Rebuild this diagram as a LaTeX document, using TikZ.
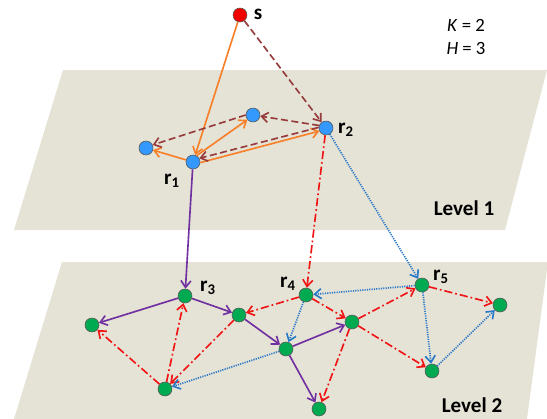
\documentclass[tikz,border=0pt]{standalone}
\usepackage{fontspec}
\setmainfont{Carlito}
\usetikzlibrary{arrows.meta}
\definecolor{planegray}{RGB}{229,226,214}
\definecolor{nodeblue}{RGB}{51,153,255}
\definecolor{nodegreen}{RGB}{0,170,80}
\definecolor{treeorange}{RGB}{247,128,40}
\definecolor{treebrown}{RGB}{150,60,60}
\definecolor{treepurple}{RGB}{112,48,160}
\definecolor{treered}{RGB}{240,20,20}
\definecolor{treeblue}{RGB}{40,120,200}

\begin{document}
\begin{tikzpicture}[
  x=0.03cm, y=-0.03cm,
  plane/.style={fill=planegray, draw=none},
  vtx/.style={circle, draw=black!65, line width=0.5pt, minimum size=0.42cm, inner sep=0pt},
  srcnode/.style={vtx, fill=red!95!black},
  bluenode/.style={vtx, fill=nodeblue},
  greennode/.style={vtx, fill=nodegreen},
  lbl/.style={font=\fontsize{18}{20}\selectfont\bfseries, inner sep=0pt},
  tip/.style={-{Straight Barb[length=2mm,width=3mm]}},
  orangearc/.style={tip, line width=1.4pt, treeorange},
  brownarc/.style={tip, line width=1.4pt, treebrown, dash pattern=on 6pt off 3pt},
  purplearc/.style={tip, line width=1.4pt, treepurple},
  redarc/.style={tip, line width=1.4pt, treered, dash pattern=on 7pt off 2.5pt on 1.5pt off 2.5pt},
  bluearc/.style={tip, line width=1.4pt, treeblue, dash pattern=on 1pt off 1pt}
]
\useasboundingbox (0,0) rectangle (547,419);
% the two levels
\fill[plane] (63,70) -- (547,70) -- (505,230) -- (14,230) -- cycle;
\fill[plane] (62,262) -- (548,262) -- (527,419) -- (14,419) -- cycle;
\node[lbl] (lev1) at (464,208) {Level 1};
\node[lbl] (lev2) at (472,405) {Level 2};
\node[font=\fontsize{16}{18}\selectfont, inner sep=0pt] (kval) at (466,25) {\textit{K} = 2};
\node[font=\fontsize{16}{18}\selectfont, inner sep=0pt] (hval) at (466,48) {\textit{H} = 3};
% nodes
\node[srcnode] (s) at (240,15) {};
\node[bluenode] (r1) at (193,162) {};
\node[bluenode] (r2) at (326,128) {};
\node[bluenode] (top) at (253,115) {};
\node[bluenode] (lft) at (146,148) {};
\node[greennode] (r3) at (185,296) {};
\node[greennode] (r4) at (306,295) {};
\node[greennode] (r5) at (422,285) {};
\node[greennode] (ga) at (239,315) {};
\node[greennode] (gb) at (165,389) {};
\node[greennode] (gc) at (286,349) {};
\node[greennode] (gd) at (352,322) {};
\node[greennode] (ge) at (432,371) {};
\node[greennode] (gf) at (319,409) {};
\node[greennode] (gl) at (92,325) {};
\node[greennode] (gr) at (500,305) {};
% labels
\node[lbl] (ls) at (258,14) {s};
\node[lbl] (l1) at (172,181) {r\textsubscript{1}};
\node[lbl] (l2) at (346,130) {r\textsubscript{2}};
\node[lbl] (l3) at (208,288) {r\textsubscript{3}};
\node[lbl] (l4) at (288,284) {r\textsubscript{4}};
\node[lbl] (l5) at (441,277) {r\textsubscript{5}};
% level 1 trees
\draw[orangearc] (s) -- (r1);
\draw[orangearc] (r1) -- (lft);
\draw[orangearc] (r1.60) -- (top.220);
\draw[orangearc] (r1.-5) -- (r2.205);
\draw[brownarc] (s) -- (r2);
\draw[brownarc] (r2.160) -- (top);
\draw[brownarc] (r2.175) -- (r1.30);
\draw[brownarc] (top.180) -- (lft.25);
% down to level 2
\draw[purplearc] (r1) -- (r3);
\draw[redarc] (r2) -- (r4);
\draw[bluearc] (r2) -- (r5);
% level 2 trees
\draw[purplearc] (r3) -- (gl);
\draw[purplearc] (r3) -- (ga);
\draw[purplearc] (ga) -- (gc);
\draw[purplearc] (gc) -- (gd);
\draw[purplearc] (gc) -- (gf);
\draw[redarc] (r4) -- (ga);
\draw[redarc] (r4) -- (gd);
\draw[redarc] (gd) -- (r5);
\draw[redarc] (gd) -- (gf);
\draw[redarc] (gd) -- (ge);
\draw[redarc] (ga) -- (gb);
\draw[redarc] (gb) -- (r3);
\draw[redarc] (gb) -- (gl);
\draw[redarc] (r5) -- (gr);
\draw[bluearc] (r5) -- (r4);
\draw[bluearc] (r4) -- (gc);
\draw[bluearc] (gc) -- (gb);
\draw[bluearc] (r5) -- (ge);
\draw[bluearc] (ge) -- (gr);
\end{tikzpicture}
\end{document}
